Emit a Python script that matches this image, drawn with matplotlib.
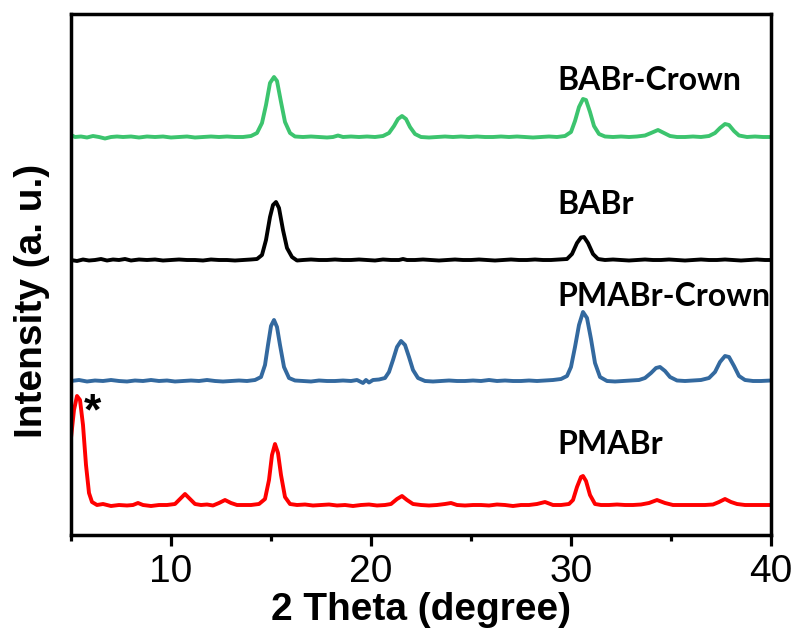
import matplotlib
matplotlib.use("Agg")
import matplotlib.pyplot as plt

# ---- data (stacked intensities, arbitrary units) ----
x_pmabr = [5.0, 5.15, 5.3, 5.45, 5.6, 5.75, 5.9, 6.05, 6.3, 6.6, 7.0, 7.4, 7.8, 8.1, 8.35, 8.6, 9.0, 9.4, 9.8,
           10.2, 10.45, 10.7, 10.95, 11.2, 11.5, 11.8, 12.1, 12.4, 12.7, 13.0, 13.3, 13.6, 14.0, 14.4, 14.7,
           14.9, 15.05, 15.2, 15.35, 15.5, 15.7, 15.95, 16.3, 16.7, 17.1, 17.5, 17.9, 18.3, 18.7, 19.1, 19.5,
           19.9, 20.3, 20.7, 21.0, 21.3, 21.55, 21.8, 22.1, 22.5, 22.9, 23.3, 23.7, 24.0, 24.3, 24.7, 25.1,
           25.5, 25.9, 26.3, 26.7, 27.1, 27.5, 27.9, 28.3, 28.7, 29.1, 29.5, 29.9, 30.1, 30.3, 30.5, 30.6,
           30.75, 30.95, 31.2, 31.5, 31.9, 32.3, 32.7, 33.1, 33.5, 33.9, 34.3, 34.7, 35.1, 35.5, 35.9, 36.3,
           36.7, 37.1, 37.4, 37.7, 38.0, 38.3, 38.7, 39.1, 39.5, 40.0]
y_pmabr = [97, 125, 139, 135, 110, 70, 42, 33, 30, 31, 29, 30, 29.5, 30, 32, 30, 29, 30, 30,
           31, 36, 41, 36, 31, 30, 30.5, 29.5, 32, 35, 32, 30, 30, 30, 31, 36,
           55, 80, 91, 82, 60, 38, 31, 30, 30.5, 29.5, 30, 30.5, 29.5, 30, 29, 30,
           30.5, 29.5, 30, 31, 36, 39, 35, 31, 30, 29.5, 30, 31, 32, 30, 29.5, 30,
           30, 29.5, 30.5, 30, 29, 30, 30, 31, 33, 30, 30, 31, 35, 48, 58, 59,
           54, 40, 31, 30, 30, 30.5, 30, 30, 30.5, 32, 35, 32, 30, 30, 30, 30,
           30, 30.5, 33, 36, 33, 31, 30, 30, 30, 30]

x_pmabr_crown = [5.0, 5.4, 5.8, 6.2, 6.6, 7.0, 7.4, 7.8, 8.2, 8.6, 9.0, 9.4, 9.8, 10.2, 10.6, 11.0, 11.4,
                 11.8, 12.2, 12.6, 13.0, 13.4, 13.8, 14.2, 14.5, 14.7, 14.85, 15.0, 15.15, 15.3, 15.45,
                 15.65, 15.9, 16.2, 16.6, 17.0, 17.4, 17.8, 18.2, 18.6, 19.0, 19.3, 19.6, 19.75, 19.9,
                 20.1, 20.4, 20.7, 20.9, 21.1, 21.3, 21.5, 21.7, 21.9, 22.1, 22.35, 22.7, 23.1, 23.5,
                 23.9, 24.3, 24.7, 25.1, 25.5, 25.9, 26.3, 26.7, 27.1, 27.5, 27.9, 28.3, 28.7, 29.1,
                 29.5, 29.8, 30.0, 30.2, 30.4, 30.6, 30.8, 31.0, 31.2, 31.45, 31.8, 32.2, 32.6, 33.0,
                 33.4, 33.7, 34.0, 34.25, 34.45, 34.7, 34.95, 35.3, 35.7, 36.1, 36.5, 36.9, 37.2,
                 37.45, 37.7, 37.9, 38.15, 38.4, 38.7, 39.1, 39.5, 40.0]
y_pmabr_crown = [154, 155, 153.5, 154.5, 154, 155, 154, 153.5, 154.5, 154, 155, 154, 154.5, 153.5, 154, 154.5, 154,
                 155, 154, 153.5, 154, 154.5, 154, 155, 158, 170, 190, 209, 215, 208, 190,
                 168, 157, 154.5, 154, 153.5, 154.5, 154, 154, 154.5, 154, 155, 152, 155, 152.5,
                 155, 155.5, 157, 163, 175, 188, 194, 190, 178, 165, 157, 154, 153.5, 154,
                 154.5, 154, 154, 154.5, 154, 155, 154, 154.5, 154, 154, 154.5, 154, 154.5, 155,
                 156, 159, 168, 188, 210, 223, 217, 196, 172, 158, 154, 153.5, 154, 154.5,
                 155, 157, 162, 167, 168, 164, 158, 154.5, 154, 154.5, 155, 157, 163,
                 173, 179, 178, 169, 159, 155, 154, 154, 154.5]

x_babr = [5.0, 5.3, 5.6, 5.9, 6.2, 6.5, 6.8, 7.1, 7.4, 7.7, 8.0, 8.4, 8.8, 9.2, 9.6, 10.0, 10.4, 10.8,
          11.2, 11.6, 12.0, 12.4, 12.8, 13.2, 13.6, 14.0, 14.3, 14.55, 14.75, 14.95, 15.1, 15.25, 15.4,
          15.6, 15.8, 16.05, 16.3, 16.6, 17.0, 17.4, 17.8, 18.2, 18.6, 19.0, 19.4, 19.8, 20.2, 20.6,
          21.0, 21.4, 21.6, 21.8, 22.2, 22.6, 23.0, 23.4, 23.8, 24.2, 24.6, 25.0, 25.4, 25.8, 26.2,
          26.6, 27.0, 27.4, 27.8, 28.2, 28.6, 29.0, 29.4, 29.8, 30.05, 30.3, 30.5, 30.65, 30.85, 31.1,
          31.35, 31.7, 32.1, 32.5, 32.9, 33.3, 33.7, 34.1, 34.5, 34.9, 35.3, 35.7, 36.1, 36.5, 36.9,
          37.3, 37.7, 38.1, 38.5, 38.9, 39.3, 39.7, 40.0]
y_babr = [275, 274, 275.5, 274.5, 275, 276, 274.5, 275.5, 275, 276, 274.5, 275.5, 275, 275.5, 274.5, 275, 275.5, 275,
          275, 274.5, 275.5, 275, 275, 274.5, 275, 275.5, 276, 280, 295, 318, 330, 333, 327,
          305, 287, 278, 274.5, 275, 275.5, 275, 275, 275.5, 275, 275, 275.5, 275, 274.5, 275.5,
          275, 275, 276, 275, 275, 275.5, 275, 274.5, 275, 275.5, 275, 275, 275.5, 275, 274.5,
          275, 275.5, 275, 275, 275.5, 275, 275, 275.5, 276, 281, 292, 297.5, 298, 292, 281,
          276, 275, 275.5, 275, 274.5, 275, 275.5, 275, 275, 275.5, 275, 274.5, 275, 275.5, 275,
          275, 275.5, 275, 274.5, 275, 275.5, 275, 275]

x_babr_crown = [5.0, 5.2, 5.5, 5.8, 6.1, 6.4, 6.7, 7.0, 7.3, 7.6, 8.0, 8.4, 8.8, 9.2, 9.6, 10.0, 10.4, 10.8,
                11.2, 11.6, 12.0, 12.4, 12.8, 13.2, 13.6, 14.0, 14.3, 14.55, 14.75, 14.95, 15.15, 15.3,
                15.5, 15.7, 15.95, 16.2, 16.6, 17.0, 17.4, 17.8, 18.1, 18.35, 18.6, 19.0, 19.4, 19.8,
                20.2, 20.6, 20.9, 21.15, 21.35, 21.55, 21.75, 21.95, 22.2, 22.5, 22.9, 23.3, 23.7, 24.1,
                24.5, 24.9, 25.3, 25.7, 26.1, 26.5, 26.9, 27.3, 27.7, 28.1, 28.5, 28.9, 29.3, 29.7, 30.0,
                30.2, 30.4, 30.6, 30.75, 30.95, 31.15, 31.4, 31.7, 32.1, 32.5, 32.9, 33.3, 33.7, 34.0,
                34.35, 34.65, 34.95, 35.3, 35.7, 36.1, 36.5, 36.9, 37.2, 37.45, 37.7, 37.9, 38.15, 38.4,
                38.8, 39.2, 39.6, 40.0]
y_babr_crown = [400, 398, 398.5, 397.5, 399, 398, 396.5, 398, 398.5, 398, 398.5, 397.5, 398.5, 398, 398.5, 397.5, 398, 398.5,
                397.5, 398, 398.5, 398, 398.5, 398, 398, 399, 402, 412, 430, 452, 458, 454,
                433, 413, 402, 398.5, 398, 398.5, 398, 397.5, 398, 399.5, 398, 398.5, 398, 398.5,
                398, 399, 402, 409, 416, 419, 416, 408, 401, 398, 397.5, 398, 398.5, 398,
                398.5, 398, 398.5, 398, 398, 398.5, 398, 398.5, 398, 397.5, 398, 398.5, 398, 399, 403,
                414, 428, 436, 435, 423, 409, 401, 398.5, 398, 398.5, 398, 398.5, 399.5, 402,
                405, 402, 399, 398, 398, 398.5, 398, 399, 402, 407, 411, 410, 404, 399.5,
                398, 398.5, 398, 398]

series_names = ["PMABr", "PMABr-Crown", "BABr", "BABr-Crown"]
series_colors = ["#ff0000", "#33699f", "#000000", "#3cc46e"]
label_y = [91, 239, 330, 455]
label_x = 29.3
star_pos = (6.05, 122)
x_ticks = [10, 20, 30, 40]

# ---- figure ----
fig = plt.figure(figsize=(7.98, 6.32), dpi=100)
ax = fig.add_axes([71 / 798, 97 / 632, 700 / 798, 521 / 632])

xs = [x_pmabr, x_pmabr_crown, x_babr, x_babr_crown]
ys = [y_pmabr, y_pmabr_crown, y_babr, y_babr_crown]
for xv, yv, c in zip(xs, ys, series_colors):
    ax.plot(xv, yv, color=c, lw=2.8, solid_joinstyle="round", solid_capstyle="round")

for name, ly in zip(series_names, label_y):
    ax.text(label_x, ly, name, fontfamily="Lato", fontweight="bold", fontsize=23,
            ha="left", va="center", color="black")

ax.text(star_pos[0], star_pos[1], "*", fontfamily="Liberation Sans", fontsize=32,
        fontweight="bold", ha="center", va="center", color="black")

ax.set_xlim(5, 40)
ax.set_ylim(0, 521)
ax.set_xticks(x_ticks)
ax.set_xticks([5, 15, 25, 35], minor=True)
ax.set_yticks([])
ax.tick_params(axis="x", which="major", direction="out", length=8, width=2.3,
               labelsize=28, pad=6)
ax.tick_params(axis="x", which="minor", direction="out", length=4, width=2.3)
for lab in ax.get_xticklabels():
    lab.set_fontfamily("Liberation Sans")
for sp in ax.spines.values():
    sp.set_linewidth(2.5)

ax.set_xlabel("2 Theta (degree)", fontfamily="Liberation Sans", fontweight="bold",
              fontsize=28, labelpad=1)
ax.set_ylabel("Intensity (a. u.)", fontfamily="Liberation Sans", fontweight="bold",
              fontsize=28)
ax.yaxis.set_label_coords(-0.03, 0.449)

fig.savefig("out.png", dpi=100)
